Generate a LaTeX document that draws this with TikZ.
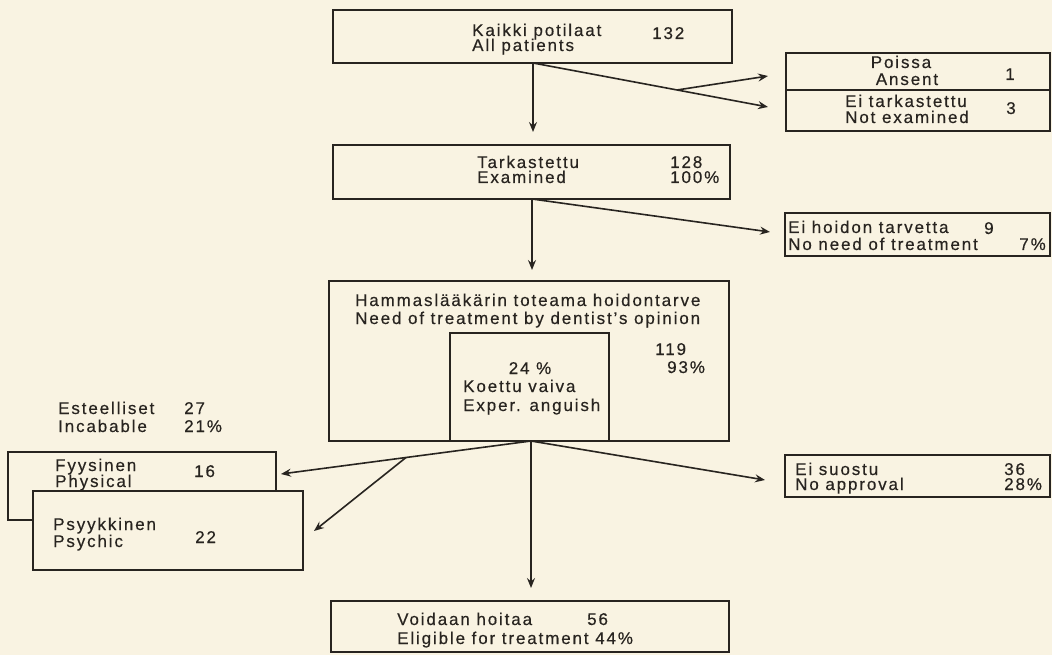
\documentclass[tikz,border=0pt]{standalone}
\usepackage{fontspec}
\setmainfont{Liberation Sans}[LetterSpace=11, FakeBold=0.4]
\usetikzlibrary{arrows.meta}
\definecolor{paper}{RGB}{249,243,226}
\definecolor{ink}{RGB}{40,36,32}
\tikzset{
  box/.style={draw=ink, line width=1.6pt, fill=paper, inner sep=0pt},
  txt/.style={inner sep=0pt, text=ink, font=\fontsize{17}{17}\selectfont},
  arr/.style={draw=ink, line width=1.6pt, -{Stealth[length=10pt,width=8pt,inset=3.5pt]}},
}
\begin{document}
\begin{tikzpicture}[x=1pt,y=-1pt]
\fill[paper] (0,0) rectangle (1052,655);
\useasboundingbox (0,0) rectangle (1052,655);

% boxes
\node[box, minimum width=399pt, minimum height=53pt] (all) at (532.5,36.5) {};
\node[box, minimum width=264pt, minimum height=37pt] (poissa) at (918,71.5) {};
\node[box, minimum width=264pt, minimum height=41pt] (eitark) at (918,110.5) {};
\node[box, minimum width=397pt, minimum height=54pt] (tark) at (531.5,172) {};
\node[box, minimum width=265pt, minimum height=43pt] (eihoid) at (917.5,234.5) {};
\node[box, minimum width=400pt, minimum height=160pt] (need) at (529,361) {};
\node[box, minimum width=159pt, minimum height=108pt] (exper) at (529.5,387) {};
\node[box, minimum width=268pt, minimum height=68pt] (fyys) at (142,486) {};
\node[box, minimum width=270pt, minimum height=79pt] (psyk) at (168,530.5) {};
\node[box, minimum width=265pt, minimum height=42pt] (suostu) at (917.5,476) {};
\node[box, minimum width=398pt, minimum height=51pt] (voidaan) at (530,626.5) {};

% texts
\node[txt, anchor=base west] (t1a) at (472,36) {Kaikki potilaat};
\node[txt, anchor=base west] (t1b) at (472,51) {All patients};
\node[txt, anchor=base west] (t1n) at (652,39) {132};

\node[txt, anchor=base] (t2a) at (901,68) {Poissa};
\node[txt, anchor=base] (t2b) at (907,85) {Ansent};
\node[txt, anchor=base] (t2n) at (1010,80) {1};
\node[txt, anchor=base] (t3a) at (906,107) {Ei tarkastettu};
\node[txt, anchor=base] (t3b) at (907,123) {Not examined};
\node[txt, anchor=base] (t3n) at (1011,114) {3};

\node[txt, anchor=base west] (t4a) at (477,168) {Tarkastettu};
\node[txt, anchor=base west] (t4b) at (477,183) {Examined};
\node[txt, anchor=base west] (t4n) at (670,168) {128};
\node[txt, anchor=base west] (t4p) at (670,183) {100\%};

\node[txt, anchor=base west] (t5a) at (788,233) {Ei hoidon tarvetta};
\node[txt, anchor=base west] (t5n) at (984,234) {9};
\node[txt, anchor=base west] (t5b) at (788,250) {No need of treatment};
\node[txt, anchor=base east] (t5p) at (1046,250) {7\%};

\node[txt, anchor=base west] (t6a) at (355,306) {Hammaslääkärin toteama hoidontarve};
\node[txt, anchor=base west] (t6b) at (355,324) {Need of treatment by dentist's opinion};
\node[txt, anchor=base west] (t6n) at (655,355) {119};
\node[txt, anchor=base west] (t6p) at (667,373) {93\%};

\node[txt, anchor=base] (t7p) at (530,374) {24 \%};
\node[txt, anchor=base west] (t7a) at (463,392) {Koettu vaiva};
\node[txt, anchor=base west] (t7b) at (463,411) {Exper. anguish};

\node[txt, anchor=base west] (t8a) at (58,414) {Esteelliset};
\node[txt, anchor=base west] (t8n) at (184,414) {27};
\node[txt, anchor=base west] (t8b) at (58,432) {Incabable};
\node[txt, anchor=base west] (t8p) at (184,432) {21\%};

\node[txt, anchor=base west] (t9a) at (55,471) {Fyysinen};
\node[txt, anchor=base west] (t9b) at (55,487) {Physical};
\node[txt, anchor=base west] (t9n) at (194,477) {16};

\node[txt, anchor=base west] (t10a) at (53,530) {Psyykkinen};
\node[txt, anchor=base west] (t10b) at (53,547) {Psychic};
\node[txt, anchor=base west] (t10n) at (195,543) {22};

\node[txt, anchor=base west] (t11a) at (795,475) {Ei suostu};
\node[txt, anchor=base west] (t11b) at (795,490) {No approval};
\node[txt, anchor=base west] (t11n) at (1004,475) {36};
\node[txt, anchor=base west] (t11p) at (1004,490) {28\%};

\node[txt, anchor=base west] (t12a) at (397,625) {Voidaan hoitaa};
\node[txt, anchor=base west] (t12n) at (587,625) {56};
\node[txt, anchor=base west] (t12b) at (397,644) {Eligible for treatment 44\%};

% connector coordinates
\coordinate (j1) at (533,63);
\coordinate (k1) at (677,90);
\coordinate (a1) at (533,132);
\coordinate (b1) at (768,76);
\coordinate (c1) at (768,107);
\coordinate (j2) at (532,199);
\coordinate (a2) at (532,270);
\coordinate (b2) at (770,232);
\coordinate (j3) at (531,441);
\coordinate (f3) at (281,474);
\coordinate (k3) at (406,457.5);
\coordinate (p3) at (314,531);
\coordinate (d3) at (531,588);
\coordinate (s3) at (765,480);

% connectors
\draw[arr] (j1) -- (a1);
\draw[arr] (j1) -- (c1);
\draw[arr] (k1) -- (b1);
\draw[arr] (j2) -- (a2);
\draw[arr] (j2) -- (b2);
\draw[arr] (j3) -- (f3);
\draw[arr] (k3) -- (p3);
\draw[arr] (j3) -- (d3);
\draw[arr] (j3) -- (s3);
\end{tikzpicture}
\end{document}
